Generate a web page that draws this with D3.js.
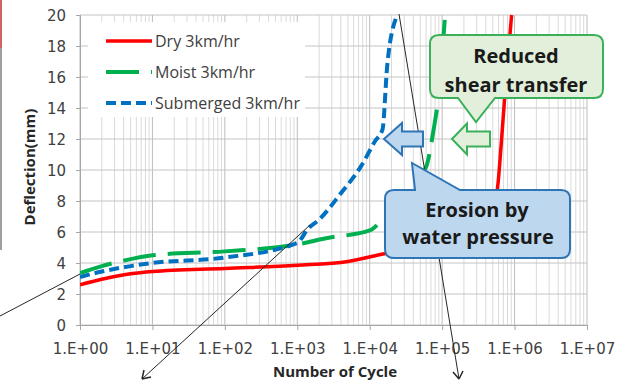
<!DOCTYPE html>
<html>
<head>
<meta charset="utf-8">
<script src="https://cdn.jsdelivr.net/npm/d3@7"></script>
<style>
  body { margin: 0; background: #fff; }
  svg { display: block; }
</style>
</head>
<body>
<svg id="chart" width="636" height="382"></svg>
<script>
// values: number of cycles vs deflection (mm)
const dryCycles = [1, 2, 5, 10, 100, 1000, 5000, 16000, 100000, 300000, 450000, 575000, 650000, 720000, 810000, 910000];
const dryDefl   = [2.6, 2.95, 3.3, 3.45, 3.65, 3.85, 4.1, 4.6, 5.2, 6.2, 7.3, 8.7, 11.5, 14.3, 17.2, 20];

const moistCycles = [1, 2, 5, 10, 100, 1000, 2500, 10000, 15000, 30000, 60000, 75000, 87000, 110000];
const moistDefl   = [3.35, 3.8, 4.25, 4.5, 4.75, 5.2, 5.6, 6.1, 6.8, 8.5, 10.2, 12.4, 14.4, 20];

const subCycles = [1, 2, 5, 10, 100, 1000, 1400, 2000, 4000, 7500, 12000, 15000, 17500, 24000];
const subDefl   = [3.1, 3.45, 3.8, 4.0, 4.35, 5.3, 6.2, 6.8, 8.5, 10.2, 11.9, 12.6, 16.8, 20];

const seriesNames = ['Dry 3km/hr', 'Moist 3km/hr', 'Submerged 3km/hr'];
const xTickValues = [1, 10, 100, 1000, 10000, 100000, 1000000, 10000000];
const xTickLabels = ['1.E+00', '1.E+01', '1.E+02', '1.E+03', '1.E+04', '1.E+05', '1.E+06', '1.E+07'];
const yTickValues = [0, 2, 4, 6, 8, 10, 12, 14, 16, 18, 20];

const series = [
  { name: seriesNames[0], cycles: dryCycles, defl: dryDefl, color: '#ff0000', width: 3.5, dash: null },
  { name: seriesNames[1], cycles: moistCycles, defl: moistDefl, color: '#00b050', width: 4, dash: '33,12' },
  { name: seriesNames[2], cycles: subCycles, defl: subDefl, color: '#0070c0', width: 4, dash: '10,5' }
];

const svg = d3.select('#chart');
const plotLeft = 80, plotRight = 587, plotTop = 15, plotBottom = 325;

const x = d3.scaleLog().domain([1, 1e7]).range([plotLeft, plotRight]);
const y = d3.scaleLinear().domain([0, 20]).range([plotBottom, plotTop]);

// slide leftovers on the left edge
svg.append('line').attr('x1', 1).attr('x2', 1).attr('y1', 0).attr('y2', 250)
  .attr('stroke', '#7f7f7f').attr('stroke-width', 1.5);
svg.append('line').attr('x1', 1).attr('x2', 1).attr('y1', 0).attr('y2', 48)
  .attr('stroke', '#e05050').attr('stroke-width', 1.5);

// gridlines
const grid = svg.append('g');
const minor = [];
for (let k = 0; k < 7; k++) {
  for (let m = 2; m <= 9; m++) minor.push(m * Math.pow(10, k));
}
grid.selectAll('.minor').data(minor).enter().append('line')
  .attr('x1', d => x(d)).attr('x2', d => x(d))
  .attr('y1', plotTop).attr('y2', plotBottom)
  .attr('stroke', '#dadada').attr('stroke-width', 1);
grid.selectAll('.major').data(xTickValues).enter().append('line')
  .attr('x1', d => x(d)).attr('x2', d => x(d))
  .attr('y1', plotTop).attr('y2', plotBottom)
  .attr('stroke', '#bcbcbc').attr('stroke-width', 1);
grid.selectAll('.hline').data(yTickValues).enter().append('line')
  .attr('x1', plotLeft).attr('x2', plotRight)
  .attr('y1', d => y(d)).attr('y2', d => y(d))
  .attr('stroke', '#c4c4c4').attr('stroke-width', 1);

// axes
const xAxis = svg.append('g')
  .attr('transform', `translate(0,${plotBottom})`)
  .call(d3.axisBottom(x).tickValues(xTickValues)
    .tickFormat((d, i) => xTickLabels[i]).tickSize(5).tickPadding(13));
const yAxis = svg.append('g')
  .attr('transform', `translate(${plotLeft},0)`)
  .call(d3.axisLeft(y).tickValues(yTickValues).tickSize(4).tickPadding(10));
[xAxis, yAxis].forEach(a => {
  a.select('.domain').attr('stroke', '#a6a6a6');
  a.selectAll('.tick line').attr('stroke', '#a6a6a6');
  a.selectAll('.tick text')
    .attr('fill', '#404040')
    .style('font-family', 'DejaVu Sans, sans-serif')
    .style('font-size', '15px');
});
yAxis.selectAll('.tick text').attr('dy', '0.36em');

// legend box (white, hides the grid behind it)
svg.append('rect').attr('x', 88).attr('y', 22).attr('width', 217).attr('height', 95)
  .attr('fill', '#fff');
const legendY = [41, 72, 103];
const legend = svg.append('g').selectAll('g').data(series).enter().append('g')
  .attr('transform', (d, i) => `translate(0,${legendY[i]})`);
legend.append('line')
  .attr('x1', 106).attr('x2', 152).attr('y1', 0).attr('y2', 0)
  .attr('stroke', d => d.color).attr('stroke-width', d => d.width)
  .attr('stroke-dasharray', d => d.dash);
legend.append('text')
  .attr('x', 155).attr('y', 0).attr('dy', '0.35em')
  .attr('fill', '#404040')
  .style('font-family', 'Open Sans, sans-serif')
  .style('font-size', '16px')
  .text(d => d.name);

// curves
svg.append('clipPath').attr('id', 'plotclip').append('rect')
  .attr('x', plotLeft).attr('y', plotTop - 1)
  .attr('width', plotRight - plotLeft).attr('height', plotBottom - plotTop + 1);
const line = d3.line()
  .x(d => x(d[0])).y(d => y(d[1]))
  .curve(d3.curveMonotoneX);
svg.append('g').attr('clip-path', 'url(#plotclip)')
  .selectAll('path').data(series).enter().append('path')
  .attr('d', d => line(d.cycles.map((c, i) => [c, d.defl[i]])))
  .attr('fill', 'none')
  .attr('stroke', d => d.color)
  .attr('stroke-width', d => d.width)
  .attr('stroke-dasharray', d => d.dash);

// thin black pointer lines from the slide
const ann = svg.append('g').attr('stroke', '#262626').attr('stroke-width', 1).attr('fill', 'none');
ann.append('line').attr('x1', 0).attr('y1', 316).attr('x2', 80).attr('y2', 274);
ann.append('line').attr('x1', 310).attr('y1', 225).attr('x2', 142).attr('y2', 379);
ann.append('path').attr('d', 'M142,379 l2,-9 M142,379 l9,-2').attr('stroke-width', 1.5);
ann.append('line').attr('x1', 399).attr('y1', 14).attr('x2', 459).attr('y2', 379);
ann.append('path').attr('d', 'M459,379 l-6,-7 M459,379 l4,-8').attr('stroke-width', 1.5);

// block arrows pointing left
function leftArrow(tipX, cy, headX, headHalf, bodyHalf, endX) {
  return `M${tipX},${cy} L${headX},${cy - headHalf} L${headX},${cy - bodyHalf} L${endX},${cy - bodyHalf}` +
    ` L${endX},${cy + bodyHalf} L${headX},${cy + bodyHalf} L${headX},${cy + headHalf} Z`;
}
svg.append('path').attr('d', leftArrow(384, 139, 402, 16, 7.5, 423))
  .attr('fill', '#bdd7ee').attr('stroke', '#2e75b6').attr('stroke-width', 2);
svg.append('path').attr('d', leftArrow(452, 139, 467, 15.5, 7.5, 490))
  .attr('fill', '#e2efda').attr('stroke', '#3bb05a').attr('stroke-width', 2);

// callouts
svg.append('path')
  .attr('d', 'M439,35 H594 Q603,35 603,44 V89 Q603,98 594,98 H495 L476,122 L458,98 H439 Q430,98 430,89 V44 Q430,35 439,35 Z')
  .attr('fill', '#e2efda').attr('stroke', '#3bb05a').attr('stroke-width', 2);
svg.append('path')
  .attr('d', 'M394,190 H415 L412,163 L460,190 H561 Q570,190 570,199 V249 Q570,258 561,258 H394 Q385,258 385,249 V199 Q385,190 394,190 Z')
  .attr('fill', '#bdd7ee').attr('stroke', '#2e75b6').attr('stroke-width', 2);

const calloutText = [
  { t: 'Reduced', x: 516, y: 63 },
  { t: 'shear transfer', x: 516, y: 92 },
  { t: 'Erosion by', x: 477, y: 217 },
  { t: 'water pressure', x: 478, y: 244 }
];
svg.append('g').selectAll('text').data(calloutText).enter().append('text')
  .attr('x', d => d.x).attr('y', d => d.y)
  .attr('text-anchor', 'middle')
  .attr('fill', '#1a1a1a')
  .style('font-family', 'Open Sans, sans-serif')
  .style('font-weight', 'bold')
  .style('font-size', '20px')
  .text(d => d.t);

// axis titles
svg.append('text')
  .attr('x', 335).attr('y', 377)
  .attr('text-anchor', 'middle')
  .attr('fill', '#262626')
  .style('font-family', 'Open Sans, sans-serif')
  .style('font-weight', 'bold')
  .style('font-size', '15px')
  .text('Number of Cycle');
svg.append('text')
  .attr('transform', 'translate(35,167) rotate(-90)')
  .attr('text-anchor', 'middle')
  .attr('fill', '#262626')
  .style('font-family', 'Open Sans, sans-serif')
  .style('font-weight', 'bold')
  .style('font-size', '15px')
  .text('Deflection(mm)');
</script>
</body>
</html>
